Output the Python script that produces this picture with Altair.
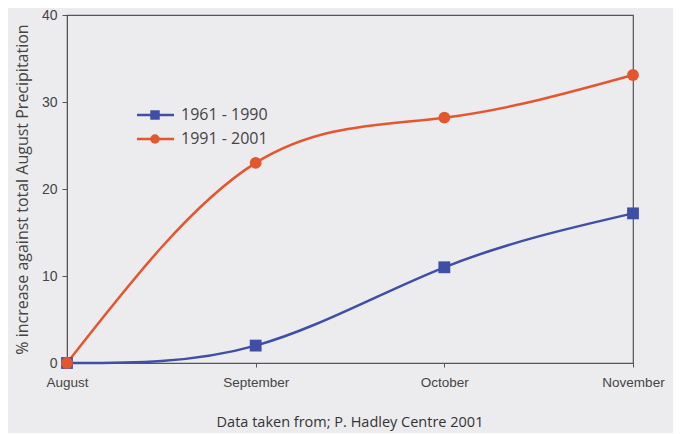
import altair as alt
import pandas as pd

months = ["August", "September", "October", "November"]
series_names = ["1961 - 1990", "1991 - 2001"]
vals_1961_1990 = [0, 2.0, 11.0, 17.2]
vals_1991_2001 = [0, 23.0, 28.2, 33.1]
y_ticks = [0, 10, 20, 30, 40]
y_title = "% increase against total August Precipitation"
caption = "Data taken from; P. Hadley Centre 2001"
colors = ["#3f4fa6", "#e4572e"]
marker_shapes = ["square", "circle"]

rows = []
for m, v in zip(months, vals_1961_1990):
    rows.append({"month": m, "value": v, "series": series_names[0]})
for m, v in zip(months, vals_1991_2001):
    rows.append({"month": m, "value": v, "series": series_names[1]})
df = pd.DataFrame(rows)

cscale = alt.Scale(domain=series_names, range=colors)
sscale = alt.Scale(domain=series_names, range=marker_shapes)

x = alt.X("month:O", sort=months, scale=alt.Scale(padding=0),
          axis=alt.Axis(title=None, labelAngle=0, labelPadding=8, tickSize=4,
                        labelFont="Liberation Sans", labelFontSize=13.5, labelColor="#444",
                        domainColor="#555", tickColor="#555"))
y = alt.Y("value:Q", scale=alt.Scale(domain=[0, 40], nice=False),
          axis=alt.Axis(values=y_ticks, title=y_title, grid=False, tickSize=5, labelPadding=5,
                        labelFont="Liberation Sans", labelFontSize=14, labelColor="#444",
                        titleFont="Open Sans", titleFontSize=16, titleFontWeight="normal",
                        titleColor="#444", titlePadding=11,
                        domainColor="#555", tickColor="#555"))

lines = alt.Chart(df).mark_line(interpolate="natural", strokeWidth=2.5).encode(
    x=x, y=y, color=alt.Color("series:N", scale=cscale, legend=None), detail="series:N")
pts = alt.Chart(df).mark_point(filled=True, size=140, opacity=1).encode(
    x=x, y=y, color=alt.Color("series:N", scale=cscale, legend=None),
    shape=alt.Shape("series:N", scale=sscale, legend=None))

legend_layers = []
for i, name in enumerate(series_names):
    ld = pd.DataFrame({"series": [name]})
    ypos = alt.value(100 + 24 * i)
    legend_layers.append(alt.Chart(ld).mark_rule(strokeWidth=2.5).encode(
        x=alt.value(70), x2=alt.value(107), y=ypos,
        color=alt.Color("series:N", scale=cscale, legend=None)))
    legend_layers.append(alt.Chart(ld).mark_point(filled=True, size=90, opacity=1).encode(
        x=alt.value(88), y=ypos, color=alt.Color("series:N", scale=cscale, legend=None),
        shape=alt.Shape("series:N", scale=sscale, legend=None)))
    legend_layers.append(alt.Chart(ld).mark_text(align="left", baseline="middle", font="Open Sans",
                                                 fontSize=16, color="#444").encode(
        x=alt.value(114), y=ypos, text="series:N"))

chart = alt.layer(lines, pts, *legend_layers).properties(
    width=566, height=348,
    autosize=alt.AutoSizeParams(type="none"),
    padding={"left": 59, "top": 7, "right": 40, "bottom": 70},
    title=alt.TitleParams(caption, orient="bottom", anchor="middle", font="Open Sans",
                          fontSize=14.5, fontWeight="normal", color="#333", offset=27),
    background="#ececef",
).configure_view(stroke="#555", strokeWidth=1.2)

chart.save("out.html", embed_options={"renderer": "svg", "actions": False})
